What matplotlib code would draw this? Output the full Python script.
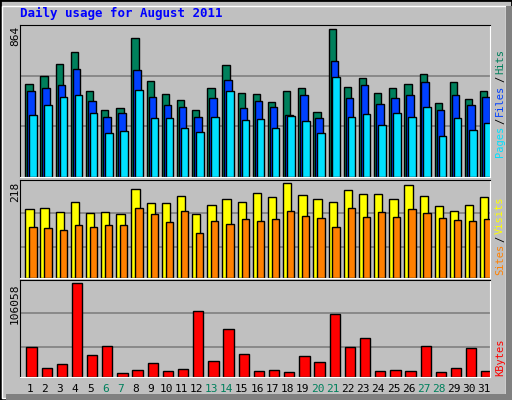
import numpy as np
import matplotlib.pyplot as plt
from matplotlib.patches import Rectangle

days = list(range(1, 32))
weekends = [6, 7, 13, 14, 20, 21, 27, 28]
hits = [546, 593, 664, 734, 505, 393, 405, 811, 564, 487, 452, 393, 522, 658, 493, 487,
        440, 505, 522, 381, 864, 528, 581, 493, 522, 546, 605, 434, 558, 458, 505]
files = [505, 522, 540, 634, 446, 351, 375, 628, 469, 422, 410, 351, 463, 569, 405, 446,
         410, 363, 481, 346, 681, 463, 540, 428, 463, 481, 558, 393, 481, 422, 469]
pages = [363, 422, 469, 481, 375, 257, 269, 511, 346, 346, 287, 263, 351, 505, 334, 340,
         287, 357, 328, 257, 587, 351, 369, 304, 375, 351, 410, 240, 346, 275, 316]
sites = [159, 161, 152, 173, 149, 152, 147, 204, 171, 171, 187, 147, 168, 180, 173, 194,
         185, 218, 190, 182, 173, 201, 192, 192, 182, 213, 187, 166, 154, 168, 185]
visits = [116, 114, 109, 121, 116, 121, 121, 161, 147, 128, 154, 102, 130, 123, 135, 130,
          135, 154, 142, 137, 116, 161, 140, 152, 140, 159, 149, 137, 133, 130, 135]
kbytes = [33678, 10452, 15097, 106058, 24387, 34839, 4645, 8129, 16258, 6968, 9290, 74323,
          18581, 54581, 25549, 6968, 8129, 5806, 23226, 17420, 70839, 33678, 44129, 6968,
          8129, 6968, 34839, 5806, 10452, 32516, 6968]

W, H = 512, 400
BG = '#c0c0c0'
MONO = 'DejaVu Sans Mono'

fig = plt.figure(figsize=(W / 100, H / 100), dpi=100, facecolor=BG)
# frame
fig.patches.append(Rectangle((0, 0), 1, 1, transform=fig.transFigure, fill=False,
                             edgecolor='black', lw=2))
fig.patches.append(Rectangle((2 / W, 2 / H), 1 - 8 / W, 1 - 8 / H, transform=fig.transFigure,
                             fill=False, edgecolor='white', lw=1))
fig.patches.append(Rectangle((6 / W, 0), 1 - 6 / W, 6 / H, transform=fig.transFigure,
                             color='#808080', lw=0))
fig.patches.append(Rectangle((1 - 6 / W, 0), 6 / W, 1 - 6 / H, transform=fig.transFigure,
                             color='#808080', lw=0))


def panel(top, bottom, ymax, grids):
    ax = fig.add_axes([20 / W, 1 - bottom / H, 470 / W, (bottom - top) / H])
    ax.set_facecolor(BG)
    ax.set_xlim(0, 31)
    ax.set_ylim(0, ymax * 1.03)
    for g in grids:
        ax.axhline(g, color='#808080', lw=1.2, zorder=0)
    ax.set_xticks([])
    ax.set_yticks([])
    for s in ax.spines.values():
        s.set_color('black')
    ax.spines['right'].set_color('white')
    ax.spines['bottom'].set_color('white')
    return ax


x = np.array(days) - 1
kw = dict(align='edge', edgecolor='black', lw=1, zorder=2)

ax1 = panel(25, 177, 864, [591, 296])
ax1.bar(x + 0.35, hits, 0.48, color='#00805c', **kw)
ax1.bar(x + 0.48, files, 0.5, color='#0040ff', **kw)
ax1.bar(x + 0.61, pages, 0.5, color='#00e0ff', **kw)

ax2 = panel(180, 278, 218, [149, 71])
ax2.bar(x + 0.35, sites, 0.55, color='#ffff00', **kw)
ax2.bar(x + 0.61, visits, 0.48, color='#ff8000', **kw)

ax3 = panel(280, 377, 106058, [72000, 33678])
ax3.bar(x + 0.42, kbytes, 0.68, color='#ff0000', **kw)

fig.text(20 / W, 1 - 13 / H, 'Daily usage for August 2011', color='#0000ff',
         family=MONO, weight='bold', fontsize=9, va='center')

fig.text(15 / W, 1 - 26 / H, '864', rotation=90, family=MONO, fontsize=8, ha='center', va='top')
fig.text(15 / W, 1 - 182 / H, '218', rotation=90, family=MONO, fontsize=8, ha='center', va='top')
fig.text(15 / W, 1 - 283 / H, '106058', rotation=90, family=MONO, fontsize=8, ha='center', va='top')

renderer = fig.canvas.get_renderer()


# right side legends, read bottom to top
def side(parts, ybottom):
    y = ybottom
    for txt, col in parts:
        t = fig.text(500 / W, 1 - y / H, txt, rotation=90, family=MONO, fontsize=7.5,
                     color=col, ha='center', va='bottom')
        y -= t.get_window_extent(renderer).height + 2


side([('Pages', '#00e0ff'), ('/', '#000000'), ('Files', '#0040ff'), ('/', '#000000'),
      ('Hits', '#00805c')], 157)
side([('Sites', '#ff8000'), ('/', '#000000'), ('Visits', '#ffff00')], 275)
side([('KBytes', '#ff0000')], 376)

for d in days:
    xp = 20 + 470 / 31 * (d - 0.5) + 2
    fig.text(xp / W, 1 - 389 / H, str(d), family=MONO, fontsize=8, ha='center', va='center',
             color='#00805c' if d in weekends else 'black')

fig.savefig('out.png', dpi=100, facecolor=BG)
